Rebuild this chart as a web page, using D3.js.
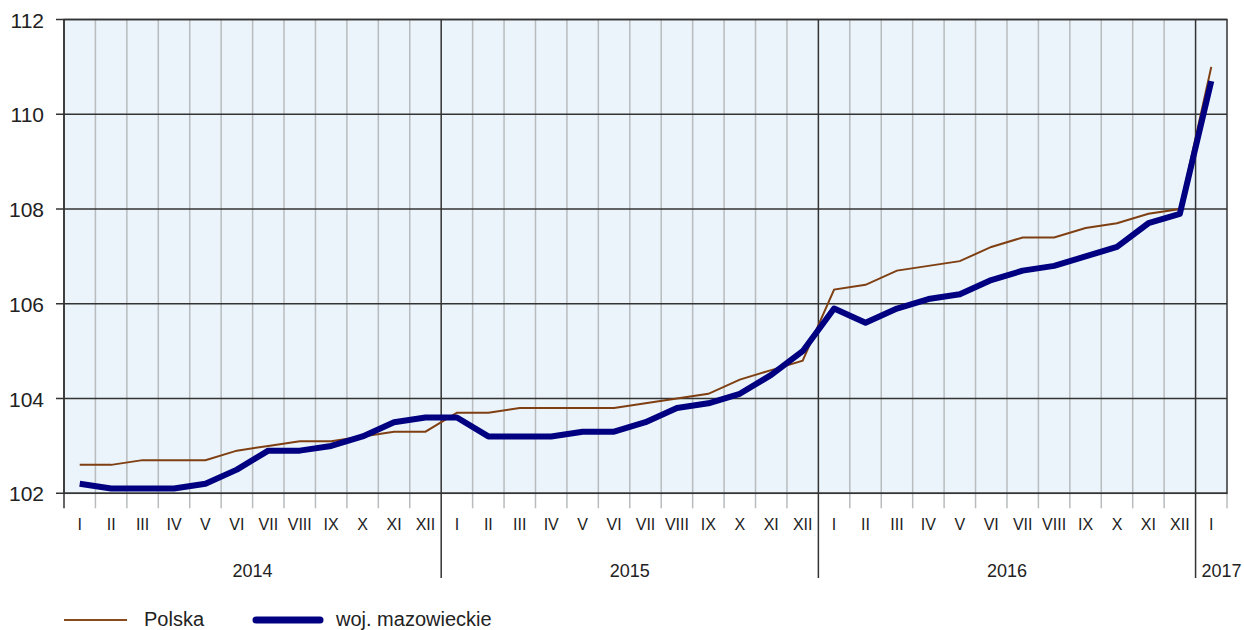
<!DOCTYPE html>
<html>
<head>
<meta charset="utf-8">
<script src="https://cdn.jsdelivr.net/npm/d3@7"></script>
<style>
  body { margin: 0; background: #fff; }
  text { font-family: "Liberation Sans", Arial, sans-serif; fill: #222; }
</style>
</head>
<body>
<svg width="1244" height="630"></svg>
<script>
const months = ["I","II","III","IV","V","VI","VII","VIII","IX","X","XI","XII"];
const years = ["2014", "2015", "2016", "2017"];
const polska = [
  102.6, 102.6, 102.7, 102.7, 102.7, 102.9, 103.0, 103.1, 103.1, 103.2, 103.3, 103.3,
  103.7, 103.7, 103.8, 103.8, 103.8, 103.8, 103.9, 104.0, 104.1, 104.4, 104.6, 104.8,
  106.3, 106.4, 106.7, 106.8, 106.9, 107.2, 107.4, 107.4, 107.6, 107.7, 107.9, 108.0,
  111.0
];
const mazowieckie = [
  102.2, 102.1, 102.1, 102.1, 102.2, 102.5, 102.9, 102.9, 103.0, 103.2, 103.5, 103.6,
  103.6, 103.2, 103.2, 103.2, 103.3, 103.3, 103.5, 103.8, 103.9, 104.1, 104.5, 105.0,
  105.9, 105.6, 105.9, 106.1, 106.2, 106.5, 106.7, 106.8, 107.0, 107.2, 107.7, 107.9,
  110.7
];
const yTicks = [102, 104, 106, 108, 110, 112];

const svg = d3.select("svg");
const plotLeft = 64, plotRight = 1227, plotTop = 19.5, plotBottom = 493.3;
const n = polska.length;

const x = d3.scaleLinear().domain([0, n]).range([plotLeft, plotRight]);
const y = d3.scaleLinear().domain([102, 112]).range([plotBottom, plotTop]);

// background
svg.append("rect")
    .attr("x", plotLeft).attr("y", plotTop)
    .attr("width", plotRight - plotLeft).attr("height", plotBottom - plotTop)
    .attr("fill", "#eaf4fa");

// minor vertical grid + ticks below axis
svg.append("g").selectAll("line")
  .data(d3.range(1, n).filter(i => i % 12 !== 0))
  .join("line")
    .attr("x1", d => x(d)).attr("x2", d => x(d))
    .attr("y1", plotTop).attr("y2", plotBottom + 15)
    .attr("stroke", "#b8bcbe").attr("stroke-width", 1.5);

// last tick after 2017 I
svg.append("line")
    .attr("x1", x(n)).attr("x2", x(n))
    .attr("y1", plotBottom).attr("y2", plotBottom + 15)
    .attr("stroke", "#b8bcbe").attr("stroke-width", 1.5);

// horizontal grid
svg.append("g").selectAll("line")
  .data(yTicks)
  .join("line")
    .attr("x1", plotLeft - 8).attr("x2", plotRight)
    .attr("y1", d => y(d)).attr("y2", d => y(d))
    .attr("stroke", "#333").attr("stroke-width", 1.5);

// year dividers
svg.append("g").selectAll("line")
  .data([12, 24, 36])
  .join("line")
    .attr("x1", d => x(d)).attr("x2", d => x(d))
    .attr("y1", plotTop).attr("y2", 578)
    .attr("stroke", "#333").attr("stroke-width", 1.5);

// frame
svg.append("rect")
    .attr("x", plotLeft).attr("y", plotTop)
    .attr("width", plotRight - plotLeft).attr("height", plotBottom - plotTop)
    .attr("fill", "none").attr("stroke", "#333").attr("stroke-width", 1.5);
svg.append("line")
    .attr("x1", plotLeft).attr("x2", plotLeft)
    .attr("y1", plotTop).attr("y2", plotBottom + 15)
    .attr("stroke", "#333").attr("stroke-width", 1.5);

// y labels
svg.append("g").selectAll("text")
  .data(yTicks)
  .join("text")
    .attr("x", 44).attr("y", d => y(d) + 8)
    .attr("text-anchor", "end")
    .attr("font-size", 21)
    .text(d => d);

// month labels
svg.append("g").selectAll("text")
  .data(d3.range(n))
  .join("text")
    .attr("x", i => x(i + 0.5)).attr("y", 530)
    .attr("text-anchor", "middle")
    .attr("font-size", 16)
    .text(i => months[i % 12]);

// year labels
svg.append("g").selectAll("text")
  .data(years)
  .join("text")
    .attr("x", (d, i) => i < 3 ? x(i * 12 + 6) : x(36) + 6)
    .attr("y", 577)
    .attr("text-anchor", (d, i) => i < 3 ? "middle" : "start")
    .attr("font-size", 18)
    .text(d => d);

const line = d3.line()
    .x((d, i) => x(i + 0.5))
    .y(d => y(d));

svg.append("path")
    .datum(polska)
    .attr("d", line)
    .attr("fill", "none")
    .attr("stroke", "#7f3f12")
    .attr("stroke-width", 2);

svg.append("path")
    .datum(mazowieckie)
    .attr("d", line)
    .attr("fill", "none")
    .attr("stroke", "#000080")
    .attr("stroke-width", 6)
    .attr("stroke-linejoin", "round");

// legend
const legend = svg.append("g");
legend.append("line")
    .attr("x1", 64).attr("x2", 127).attr("y1", 620).attr("y2", 620)
    .attr("stroke", "#8b4a1c").attr("stroke-width", 2);
legend.append("text")
    .attr("x", 144).attr("y", 626)
    .attr("font-size", 20).text("Polska");
legend.append("line")
    .attr("x1", 256).attr("x2", 320).attr("y1", 620).attr("y2", 620)
    .attr("stroke", "#000080").attr("stroke-width", 7)
    .attr("stroke-linecap", "round");
legend.append("text")
    .attr("x", 336).attr("y", 626)
    .attr("font-size", 20).text("woj. mazowieckie");
</script>
</body>
</html>
